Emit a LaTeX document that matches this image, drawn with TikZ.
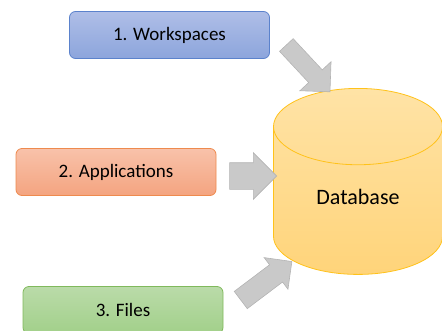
\documentclass[tikz,border=0pt]{standalone}
\usepackage{fontspec}
\setmainfont{Carlito}
\usetikzlibrary{positioning,shapes.geometric,shapes.arrows}

\definecolor{wstop}{HTML}{AFBEE7}
\definecolor{wsbot}{HTML}{8CA5DC}
\definecolor{wsline}{HTML}{5B82CC}
\definecolor{aptop}{HTML}{F8C2AA}
\definecolor{apbot}{HTML}{F4A480}
\definecolor{apline}{HTML}{EE8A4E}
\definecolor{fltop}{HTML}{BADBA9}
\definecolor{flbot}{HTML}{A2D08A}
\definecolor{flline}{HTML}{80B95C}
\definecolor{dbtop}{HTML}{FFE3A6}
\definecolor{dbbot}{HTML}{FFD47A}
\definecolor{dbline}{HTML}{FFC21A}
\definecolor{arrowfill}{HTML}{C9C9C9}
\definecolor{arrowline}{HTML}{B4B4B4}

\begin{document}
\begin{tikzpicture}[x=1pt,y=-1pt,on grid,
    box/.style={rectangle,rounded corners=6pt,minimum width=200pt,minimum height=47pt,
                line width=0.8pt,font=\fontsize{19}{22}\selectfont},
    blockarrow/.style={single arrow,draw=arrowline,fill=arrowfill,line width=0.6pt,
                inner xsep=0pt,single arrow tip angle=90}]
    \useasboundingbox (0,0) rectangle (442,330);

    % sources
    \node[box,draw=wsline,top color=wstop,bottom color=wsbot] (ws) at (169.5,35) {1. Workspaces};
    \node[box,draw=apline,top color=aptop,bottom color=apbot] (apps) [below left=137pt and 53.5pt of ws] {2. Applications};
    \node[box,draw=flline,top color=fltop,bottom color=flbot] (files) [below right=138pt and 7pt of apps] {3. Files};

    % target
    \node[cylinder,shape border rotate=90,aspect=0.85,draw=dbline,line width=0.8pt,
          top color=dbtop,bottom color=dbbot,minimum width=169pt,minimum height=186pt,
          font=\fontsize{22}{26}\selectfont] (db) at (358,206) {\raisebox{18pt}{Database}};

    % block arrows
    \node[blockarrow,minimum height=64pt,inner ysep=9pt,single arrow head extend=12pt,rotate=-47] (a1) at (305,65) {};
    \node[blockarrow,minimum height=47pt,inner ysep=13pt,single arrow head extend=10pt] (a2) at (246.5,176) {};
    \node[blockarrow,minimum height=64pt,inner ysep=10.5pt,single arrow head extend=9pt,rotate=37] (a3) at (262,284) {};
\end{tikzpicture}
\end{document}
